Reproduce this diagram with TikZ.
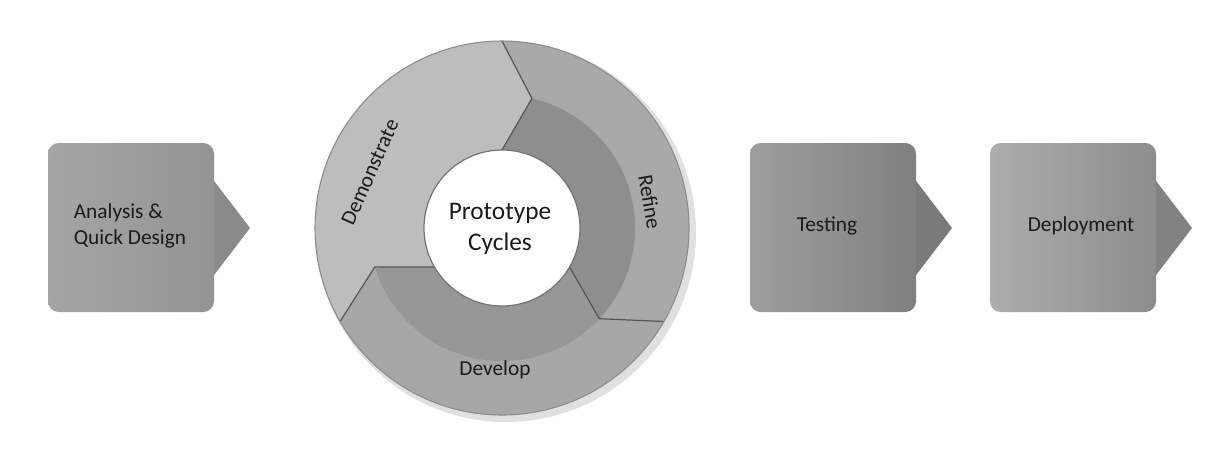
\documentclass[tikz,border=0pt]{standalone}
\usepackage{fontspec}
\setmainfont{Carlito}
\definecolor{demofill}{HTML}{BDBDBD}
\definecolor{refout}{HTML}{A9A9A9}
\definecolor{refin}{HTML}{8E8E8E}
\definecolor{devout}{HTML}{A7A7A7}
\definecolor{devin}{HTML}{979797}
\definecolor{segline}{HTML}{555555}
\definecolor{txt}{HTML}{1A1A1A}
\definecolor{aL}{HTML}{A5A5A5}
\definecolor{aR}{HTML}{949494}
\definecolor{aA}{HTML}{8A8A8A}
\definecolor{tL}{HTML}{9E9E9E}
\definecolor{tR}{HTML}{808080}
\definecolor{tA}{HTML}{7A7A7A}
\definecolor{dL}{HTML}{ADADAD}
\definecolor{dR}{HTML}{8D8D8D}
\definecolor{dA}{HTML}{828282}
\tikzset{
  boxtext/.style={font=\fontsize{16}{19}\selectfont, text=txt, inner sep=0pt},
  cyctext/.style={font=\fontsize{16}{19}\selectfont, text=txt, inner sep=0pt},
  centertext/.style={font=\fontsize{19}{23}\selectfont, text=txt, align=center, inner sep=0pt},
  segedge/.style={draw=segline, line width=0.9pt, line join=round}
}
\newcommand\procbox[4]{%
  \fill[#4] (#1+160,173) -- (#1+202,228) -- (#1+160,283) -- cycle;
  \shade[left color=#2, right color=#3, rounded corners=8pt] (#1,143) rectangle (#1+166,312);
}
\newcommand\cycseg[2]{(#1+13:187) arc[start angle=#1+13, end angle=#2+13, radius=187] -- (#2:133) -- (#2+13:78) arc[start angle=#2+13, end angle=#1+13, radius=78] -- (#1:133) -- cycle}
\begin{document}
\begin{tikzpicture}[x=0.75pt, y=-0.75pt]
\useasboundingbox (0,0) rectangle (1205,450);
\fill[white] (0,0) rectangle (1205,450);
% process boxes
\procbox{48}{aL}{aR}{aA}
\procbox{750}{tL}{tR}{tA}
\procbox{990}{dL}{dR}{dA}
\node[boxtext, align=left] (analysis) at (130,226) {Analysis \&\\Quick Design};
\node[boxtext] (testing) at (827,226) {Testing};
\node[boxtext] (deploy) at (1081,226) {Deployment};
% cycle
\fill[black!12] (506,232) circle (190);
\begin{scope}[shift={(502,228)}, yscale=-1]
  \fill[demofill] \cycseg{197}{77};
  \fill[refout] \cycseg{77}{-43};
  \begin{scope}
    \clip \cycseg{77}{-43};
    \fill[refin] (0,0) circle (133);
  \end{scope}
  \fill[devout] \cycseg{-43}{-163};
  \begin{scope}
    \clip \cycseg{-43}{-163};
    \fill[devin] (0,0) circle (133);
  \end{scope}
  \draw[segedge] (90:187) -- (77:133) -- (90:78);
  \draw[segedge] (-30:187) -- (-43:133) -- (-30:78);
  \draw[segedge] (210:187) -- (197:133) -- (210:78);
  \draw[black!45, line width=0.8pt] (0,0) circle (187);
  \filldraw[fill=white, draw=black!55, line width=0.9pt] (0,0) circle (78);
\end{scope}
\node[cyctext, rotate=66] (demo) at (370,172) {Demonstrate};
\node[cyctext, rotate=-80] (refine) at (650,202) {Refine};
\node[cyctext] (develop) at (495,370) {Develop};
\node[centertext] (proto) at (500,229) {Prototype\\Cycles};
\end{tikzpicture}
\end{document}
